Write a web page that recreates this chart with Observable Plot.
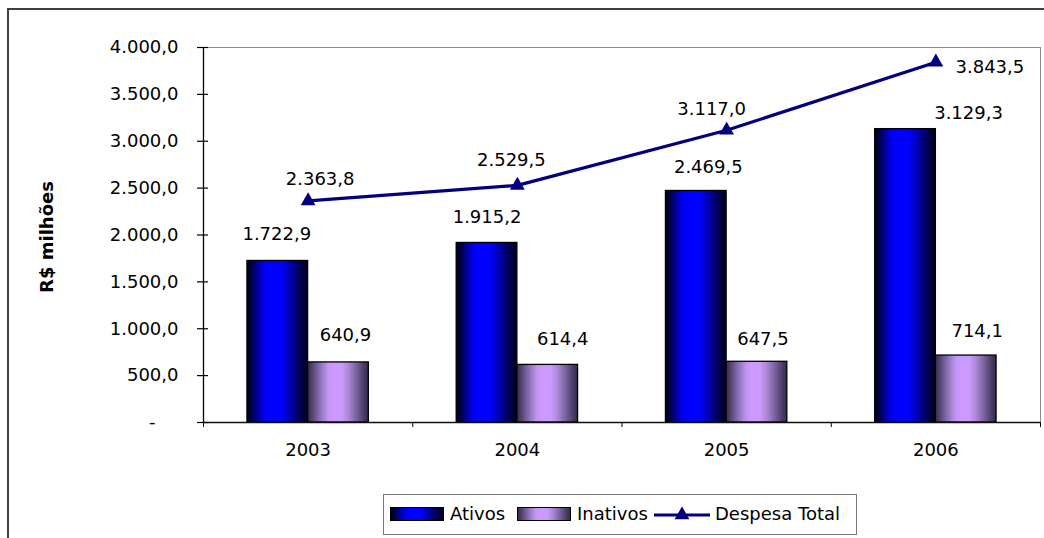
<!DOCTYPE html>
<html>
<head>
<meta charset="utf-8">
<script src="https://cdn.jsdelivr.net/npm/d3@7"></script>
<script src="https://cdn.jsdelivr.net/npm/@observablehq/plot@0.6"></script>
<style>
  html, body { margin: 0; padding: 0; background: #fff; overflow: hidden; }
  body { position: relative; width: 1044px; height: 538px; font-family: "DejaVu Sans", sans-serif; font-size: 18px; color: #000; }
  #chart { position: absolute; left: 0; top: 0; }
  #outer { position: absolute; left: 7px; top: 8px; width: 1200px; height: 800px; border: 2px solid #404040; pointer-events: none; }
  #ytitle { position: absolute; left: 46px; top: 237px; transform: translate(-50%, -50%) rotate(-90deg); white-space: nowrap; font-weight: bold; font-size: 18px; }
  #legend { position: absolute; left: 383px; top: 494px; width: 474px; height: 41px; box-sizing: border-box; border: 1px solid #777; background: #fff; }
  #legend .sw { position: absolute; top: 12px; height: 14px; box-sizing: border-box; border: 1px solid #000; }
  #legend .lbl { position: absolute; top: 8px; line-height: 22px; white-space: nowrap; }
</style>
</head>
<body>
<div id="chart"></div>
<div id="outer"></div>
<div id="ytitle">R$ milhões</div>
<div id="legend"></div>
<script>
// ---- data ----
const years = [2003, 2004, 2005, 2006];
const ativos = [1722.9, 1915.2, 2469.5, 3129.3];
const inativos = [640.9, 614.4, 647.5, 714.1];
const despesaTotal = [2363.8, 2529.5, 3117.0, 3843.5];
const yTicks = [0, 500, 1000, 1500, 2000, 2500, 3000, 3500, 4000];
const seriesNames = ["Ativos", "Inativos", "Despesa Total"];

// ---- styling ----
const NAVY = "#000080";
const barW = 0.29; // bar width in category units
const xBounds = [years[0] - 0.5, years[years.length - 1] + 0.5];
const boundaryTicks = d3.range(xBounds[0], xBounds[1] + 0.01, 1);
const ptBR = d3.formatLocale({decimal: ",", thousands: ".", grouping: [3], currency: ["R$", ""]});
const fmt = ptBR.format(",.1f");

const ativosStops = [[0,"#000018"],[0.08,"#000048"],[0.17,"#00009a"],[0.26,"#0000e0"],[0.34,"#0000ff"],[0.56,"#0000ff"],[0.66,"#0000cc"],[0.77,"#00008c"],[0.89,"#00004a"],[1,"#00001e"]];
const inativosStops = [[0,"#382b4b"],[0.08,"#564572"],[0.16,"#7a61a2"],[0.26,"#a283d0"],[0.34,"#c296f4"],[0.42,"#cc99ff"],[0.56,"#cc99ff"],[0.66,"#b08ad8"],[0.76,"#8a6eb0"],[0.86,"#635184"],[0.94,"#463860"],[1,"#382b4b"]];

// label nudges (dx, dy) per series, per year
const nudges = {
  ativos: [[-1, -27], [0, -26], [12, -24], [63, -16]],
  inativos: [[7, -27], [15, -26], [6, -23], [11, -24]],
  total: [[12, -22], [-6, -25], [-15, -21], [54, 5]]
};

const rows = years.map((year, i) => ({year, ativos: ativos[i], inativos: inativos[i], total: despesaTotal[i]}));

const labelMarks = [];
rows.forEach((r, i) => {
  labelMarks.push(Plot.text([r], {x: d => d.year - barW / 2, y: "ativos", text: d => fmt(d.ativos), dx: nudges.ativos[i][0], dy: nudges.ativos[i][1], fill: "#000"}));
  labelMarks.push(Plot.text([r], {x: d => d.year + barW / 2, y: "inativos", text: d => fmt(d.inativos), dx: nudges.inativos[i][0], dy: nudges.inativos[i][1], fill: "#000"}));
  labelMarks.push(Plot.text([r], {x: "year", y: "total", text: d => fmt(d.total), dx: nudges.total[i][0], dy: nudges.total[i][1], fill: "#000"}));
});

const chart = Plot.plot({
  width: 1044,
  height: 538,
  marginLeft: 203,
  marginRight: 4,
  marginTop: 47,
  marginBottom: 116,
  style: {fontFamily: "DejaVu Sans", fontSize: "18px", background: "transparent", color: "#000"},
  x: {domain: xBounds},
  y: {domain: [0, 4000]},
  marks: [
    Plot.frame({stroke: "#8c8c8c", strokeWidth: 1}),
    Plot.rectY(rows, {x1: d => d.year - barW, x2: "year", y1: 0, y2: "ativos", fill: "url(#gradAtivos)", stroke: "#000", strokeWidth: 1.3}),
    Plot.rectY(rows, {x1: "year", x2: d => d.year + barW, y1: 0, y2: "inativos", fill: "url(#gradInativos)", stroke: "#000", strokeWidth: 1.3}),
    Plot.ruleY([0], {stroke: "#111", strokeWidth: 1.3}),
    Plot.ruleX([xBounds[0]], {stroke: "#000", strokeWidth: 1.3}),
    Plot.ruleY(yTicks, {x1: xBounds[0], x2: xBounds[0], insetLeft: -6, insetRight: -5, stroke: "#000", strokeWidth: 1.2}),
    Plot.axisY({ticks: yTicks, tickSize: 0, tickPadding: 25, label: null, tickFormat: d => d === 0 ? "-\u00a0\u00a0\u00a0\u00a0" : fmt(d)}),
    Plot.axisX({ticks: boundaryTicks, tickSize: 5, tickFormat: () => "", label: null, stroke: "#000"}),
    Plot.axisX({ticks: years, tickSize: 0, tickPadding: 21, tickFormat: d => String(d), label: null}),
    Plot.line(rows, {x: "year", y: "total", stroke: NAVY, strokeWidth: 3.2}),
    Plot.dot(rows, {x: "year", y: "total", symbol: "triangle", r: 5.5, fill: NAVY, stroke: "none"}),
    ...labelMarks
  ]
});

// gradient defs
const svgSel = d3.select(chart);
const defs = svgSel.insert("defs", ":first-child");
function addGrad(id, stops) {
  const g = defs.append("linearGradient").attr("id", id).attr("x1", "0").attr("x2", "1").attr("y1", "0").attr("y2", "0");
  stops.forEach(([o, c]) => g.append("stop").attr("offset", o).attr("stop-color", c));
}
addGrad("gradAtivos", ativosStops);
addGrad("gradInativos", inativosStops);
svgSel.selectAll("text").attr("fill", "#000");

document.getElementById("chart").appendChild(chart);

// legend
const cssGrad = stops => "linear-gradient(to right, " + stops.map(([o, c]) => `${c} ${o * 100}%`).join(", ") + ")";
const legend = document.getElementById("legend");
legend.innerHTML = `
  <div class="sw" style="left:6px;width:54px;background:${cssGrad(ativosStops)}"></div>
  <div class="lbl" style="left:66px">${seriesNames[0]}</div>
  <div class="sw" style="left:133px;width:54px;background:${cssGrad(inativosStops)}"></div>
  <div class="lbl" style="left:193px">${seriesNames[1]}</div>
  <svg style="position:absolute;left:270px;top:10px" width="58" height="20">
    <line x1="0" y1="10" x2="56" y2="10" stroke="${NAVY}" stroke-width="3"></line>
    <path d="${d3.symbol(d3.symbolTriangle, Math.PI * 5.5 * 5.5)()}" transform="translate(28,10)" fill="${NAVY}"></path>
  </svg>
  <div class="lbl" style="left:331px">${seriesNames[2]}</div>
`;
</script>
</body>
</html>
